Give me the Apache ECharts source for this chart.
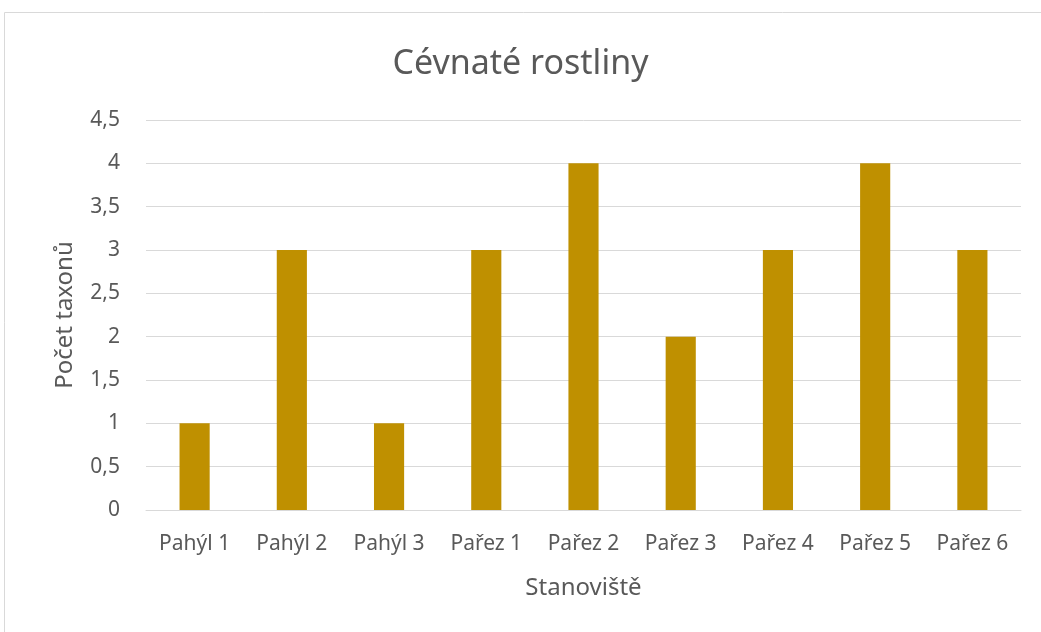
<!DOCTYPE html>
<html>
<head>
<meta charset="utf-8">
<script src="https://cdn.jsdelivr.net/npm/echarts@6/dist/echarts.min.js"></script>
<style>
  html, body { margin: 0; padding: 0; background: #fff; }
  #chart { width: 1041px; height: 632px; }
</style>
</head>
<body>
<div id="chart"></div>
<script>
const categories = ['Pahýl 1', 'Pahýl 2', 'Pahýl 3', 'Pařez 1', 'Pařez 2', 'Pařez 3', 'Pařez 4', 'Pařez 5', 'Pařez 6']
const taxonCounts = [1, 3, 1, 3, 4, 2, 3, 4, 3]

const chart = echarts.init(document.getElementById('chart'))
const font = 'Noto Sans'

chart.setOption({
  animation: false,
  textStyle: { fontFamily: font },
  graphic: [{
    type: 'rect',
    shape: { x: 4.5, y: 12.5, width: 1060, height: 640 },
    style: { fill: 'none', stroke: '#d9d9d9', lineWidth: 1 },
    silent: true
  }],
  title: {
    text: 'Cévnaté rostliny',
    left: 'center',
    top: 42,
    textStyle: { fontFamily: font, fontSize: 34, fontWeight: 'normal', color: '#595959' }
  },
  grid: { left: 146, right: 20, top: 120, bottom: 122 },
  xAxis: {
    type: 'category',
    data: categories,
    name: 'Stanoviště',
    nameLocation: 'middle',
    nameGap: 66,
    nameTextStyle: { fontSize: 24, color: '#595959' },
    axisLine: { lineStyle: { color: '#d9d9d9' } },
    axisTick: { show: false },
    axisLabel: { fontSize: 21, color: '#595959', margin: 24, interval: 0 }
  },
  yAxis: {
    type: 'value',
    min: 0,
    max: 4.5,
    interval: 0.5,
    name: 'Počet taxonů',
    nameLocation: 'middle',
    nameGap: 69,
    nameTextStyle: { fontSize: 24, color: '#595959' },
    axisLine: { show: false },
    axisTick: { show: false },
    splitLine: { lineStyle: { color: '#d9d9d9' } },
    axisLabel: {
      fontSize: 21,
      color: '#595959',
      margin: 26,
      formatter: v => String(v).replace('.', ',')
    }
  },
  series: [{
    type: 'bar',
    data: taxonCounts,
    barWidth: '31%',
    itemStyle: { color: '#bf9000' }
  }]
})
</script>
</body>
</html>
